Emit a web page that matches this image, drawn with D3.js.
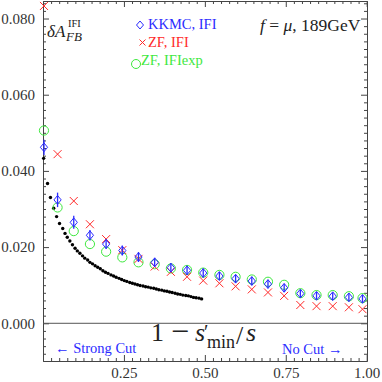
<!DOCTYPE html>
<html><head><meta charset="utf-8">
<script src="https://cdn.jsdelivr.net/npm/d3@7"></script>
<style>body{margin:0;background:#fff}svg{display:block}text{font-family:"Liberation Serif","DejaVu Serif",serif}</style>
</head><body>
<script>
// ---- data ----
const xPts = [0.003,0.045,0.095,0.145,0.195,0.245,0.295,0.345,0.395,0.445,0.495,0.545,0.595,0.645,0.695,0.745,0.795,0.845,0.895,0.945,0.987];
const kkmc = [0.0462,0.0324,0.0265,0.0231,0.0208,0.0191,0.0174,0.0160,0.0146,0.0139,0.0132,0.0124,0.0117,0.0111,0.0103,0.0093,0.0078,0.0072,0.0071,0.0068,0.0064];
const kkmcErr = [0.0020,0.0019,0.0017,0.0014,0.0013,0.0013,0.0013,0.0012,0.0012,0.0012,0.0012,0.0011,0.0011,0.0011,0.0011,0.0011,0.0010,0.0010,0.0010,0.0010,0.0010];
const zfIfi = [0.0833,0.0444,0.0321,0.0260,0.0221,0.0192,0.0169,0.0149,0.0135,0.0122,0.0112,0.0105,0.0097,0.0089,0.0081,0.0072,0.0048,0.0045,0.0045,0.0042,0.0037];
const zfIfiExp = [0.0506,0.0304,0.0242,0.0208,0.0188,0.0173,0.0160,0.0155,0.0144,0.0140,0.0133,0.0127,0.0122,0.0115,0.0109,0.0101,0.0079,0.0074,0.0074,0.0071,0.0066];
const curveX = [0.002,0.014,0.023,0.033,0.042,0.051,0.061,0.068,0.075,0.083,0.091,0.099,0.106,0.114,0.122,0.129,0.138,0.145,0.153,0.161,0.169,0.177,0.185,0.193,0.201,0.210,0.218,0.226,0.235,0.243,0.251,0.259,0.268,0.276,0.284,0.292,0.300,0.309,0.317,0.325,0.333,0.342,0.350,0.358,0.367,0.375,0.383,0.391,0.399,0.408,0.416,0.424,0.432,0.441,0.449,0.457,0.465,0.473,0.482,0.490];
const curveY = [0.0433,0.0367,0.0330,0.0302,0.0280,0.0262,0.0249,0.0236,0.0226,0.0216,0.0206,0.0197,0.0190,0.0184,0.0177,0.0171,0.0166,0.0160,0.0156,0.0151,0.0147,0.0143,0.0138,0.0134,0.0131,0.0127,0.0124,0.0121,0.0118,0.0115,0.0112,0.0110,0.0107,0.0105,0.0103,0.0101,0.0099,0.0098,0.0096,0.0095,0.0093,0.0092,0.0090,0.0088,0.0087,0.0085,0.0084,0.0082,0.0081,0.0079,0.0077,0.0076,0.0074,0.0073,0.0072,0.0070,0.0068,0.0067,0.0066,0.0064];
const yTicks = [0.000,0.020,0.040,0.060,0.080];
const yTickLabels = ["0.000","0.020","0.040","0.060","0.080"];
const xTicks = [0.25,0.50,0.75,1.00];
const xTickLabels = ["0.25","0.50","0.75","1.00"];
const legendLabels = ["KKMC, IFI","ZF, IFI","ZF, IFIexp"];

// ---- layout ----
const W = 382, H = 382;
const L = 43, R = 367, T = 1, B = 361;
const blue = "#2b2bff", red = "#ff2a2a", green = "#3ee83e", axisCol = "#444";

const x = d3.scaleLinear().domain([0, 1]).range([L, R - 0.3]);
const y = d3.scaleLinear().domain([-0.0099, 0.0846]).range([B, T]);

const svg = d3.select("body").append("svg").attr("width", W).attr("height", H);

const xMinor = d3.range(0, 41).map(i => i * 0.025).filter(v => Math.abs(v / 0.25 - Math.round(v / 0.25)) > 1e-6);
const yMinor = d3.range(-4, 43).map(i => i * 0.002).filter(v => Math.abs(v / 0.02 - Math.round(v / 0.02)) > 1e-6 && v >= -0.0099 && v <= 0.0846);

function styleAxis(g) {
  g.selectAll("path,line").attr("stroke", axisCol);
  g.selectAll("text").attr("fill", "#333").style("font-family", '"Liberation Serif",serif').style("font-size", "15px");
}

svg.append("g").attr("transform", `translate(0,${B})`)
  .call(d3.axisBottom(x).tickValues(xTicks).tickFormat((d, i) => xTickLabels[i]).tickSizeInner(-6).tickSizeOuter(0).tickPadding(6))
  .call(styleAxis);
svg.append("g").attr("transform", `translate(0,${B})`)
  .call(d3.axisBottom(x).tickValues(xMinor).tickFormat("").tickSizeInner(-3).tickSizeOuter(0))
  .call(styleAxis);
svg.append("g").attr("transform", `translate(0,${T})`)
  .call(d3.axisTop(x).tickValues(xTicks).tickFormat("").tickSizeInner(-6).tickSizeOuter(0))
  .call(styleAxis);
svg.append("g").attr("transform", `translate(0,${T})`)
  .call(d3.axisTop(x).tickValues(xMinor).tickFormat("").tickSizeInner(-3).tickSizeOuter(0))
  .call(styleAxis);
svg.append("g").attr("transform", `translate(${L},0)`)
  .call(d3.axisLeft(y).tickValues(yTicks).tickFormat((d, i) => yTickLabels[i]).tickSizeInner(-6).tickSizeOuter(0).tickPadding(8))
  .call(styleAxis);
svg.append("g").attr("transform", `translate(${L},0)`)
  .call(d3.axisLeft(y).tickValues(yMinor).tickFormat("").tickSizeInner(-3).tickSizeOuter(0))
  .call(styleAxis);
svg.append("g").attr("transform", `translate(${R},0)`)
  .call(d3.axisRight(y).tickValues(yTicks).tickFormat("").tickSizeInner(-6).tickSizeOuter(0))
  .call(styleAxis);
svg.append("g").attr("transform", `translate(${R},0)`)
  .call(d3.axisRight(y).tickValues(yMinor).tickFormat("").tickSizeInner(-3).tickSizeOuter(0))
  .call(styleAxis);

// zero line
svg.append("line").attr("x1", L).attr("x2", R).attr("y1", y(0)).attr("y2", y(0))
  .attr("stroke", "#555").attr("stroke-width", 1);

// black curve dots
svg.append("g").selectAll("circle").data(curveX).join("circle")
  .attr("cx", (d) => x(d)).attr("cy", (d, i) => y(curveY[i])).attr("r", 1.7).attr("fill", "#000");

// green circles
svg.append("g").selectAll("circle").data(xPts).join("circle")
  .attr("cx", d => x(d)).attr("cy", (d, i) => y(zfIfiExp[i])).attr("r", 4.6)
  .attr("fill", "none").attr("stroke", green).attr("stroke-width", 1);

// red crosses
const cs = 4;
svg.append("g").selectAll("path").data(xPts).join("path")
  .attr("d", (d, i) => { const cx = x(d), cy = y(zfIfi[i]); return `M${cx-cs},${cy-cs}L${cx+cs},${cy+cs}M${cx-cs},${cy+cs}L${cx+cs},${cy-cs}`; })
  .attr("stroke", red).attr("stroke-width", 1).attr("fill", "none");

// blue error bars
svg.append("g").selectAll("line").data(xPts).join("line")
  .attr("x1", d => x(d)).attr("x2", d => x(d))
  .attr("y1", (d, i) => y(kkmc[i] - kkmcErr[i])).attr("y2", (d, i) => y(kkmc[i] + kkmcErr[i]))
  .attr("stroke", blue).attr("stroke-width", 1.3);
// blue diamonds
const dw = 3.6, dh = 4.4;
svg.append("g").selectAll("path").data(xPts).join("path")
  .attr("d", (d, i) => { const cx = x(d), cy = y(kkmc[i]); return `M${cx},${cy-dh}L${cx+dw},${cy}L${cx},${cy+dh}L${cx-dw},${cy}Z`; })
  .attr("stroke", blue).attr("stroke-width", 1).attr("fill", "none");

// legend
const lg = svg.append("g");
lg.append("path").attr("d", "M140,21L143.5,25L140,29L136.5,25Z").attr("stroke", blue).attr("fill", "none");
lg.append("text").attr("x", 148).attr("y", 29).attr("fill", blue).style("font-size", "14.5px").text(legendLabels[0]);
lg.append("path").attr("d", "M139.5,39.5L145.5,45.5M139.5,45.5L145.5,39.5").attr("stroke", red).attr("fill", "none");
lg.append("text").attr("x", 148).attr("y", 47).attr("fill", red).style("font-size", "14.5px").text(legendLabels[1]);
lg.append("circle").attr("cx", 136).attr("cy", 64).attr("r", 4.5).attr("stroke", green).attr("fill", "none");
lg.append("text").attr("x", 141).attr("y", 65).attr("fill", green).style("font-size", "14.5px").text(legendLabels[2]);

// top-right annotation
const tr = svg.append("text").attr("x", 260).attr("y", 31).attr("fill", "#222").style("font-size", "17.5px");
tr.append("tspan").style("font-style", "italic").text("f");
tr.append("tspan").text(" = ");
tr.append("tspan").style("font-style", "italic").text("μ");
tr.append("tspan").text(", 189GeV");

// y label
svg.append("text").attr("x", 47).attr("y", 36.5).attr("fill", "#222").style("font-size", "17px").style("font-style", "italic").text("δA");
svg.append("text").attr("x", 68).attr("y", 27).attr("fill", "#222").style("font-size", "10.5px").text("IFI");
svg.append("text").attr("x", 66).attr("y", 40.5).attr("fill", "#222").style("font-size", "13px").style("font-style", "italic").text("FB");

// x label
const xlab = svg.append("g").attr("fill", "#222");
xlab.append("text").attr("x", 151).attr("y", 341).style("font-size", "26px").text("1");
xlab.append("text").attr("x", 171).attr("y", 342).style("font-size", "32px").text("−");
xlab.append("text").attr("x", 195).attr("y", 341).style("font-size", "26px").style("font-style", "italic").text("s");
xlab.append("text").attr("x", 204).attr("y", 339).style("font-size", "20px").text("′");
xlab.append("text").attr("x", 207).attr("y", 348).style("font-size", "18px").text("min");
xlab.append("text").attr("x", 236).attr("y", 344).style("font-size", "26px").text("/");
xlab.append("text").attr("x", 246).attr("y", 341).style("font-size", "26px").style("font-style", "italic").text("s");

// cut annotations
svg.append("text").attr("x", 55).attr("y", 353).attr("fill", blue).style("font-size", "14.5px").text("← Strong Cut");
svg.append("text").attr("x", 282).attr("y", 354).attr("fill", blue).style("font-size", "14.5px").text("No Cut →");
</script>
</body></html>
